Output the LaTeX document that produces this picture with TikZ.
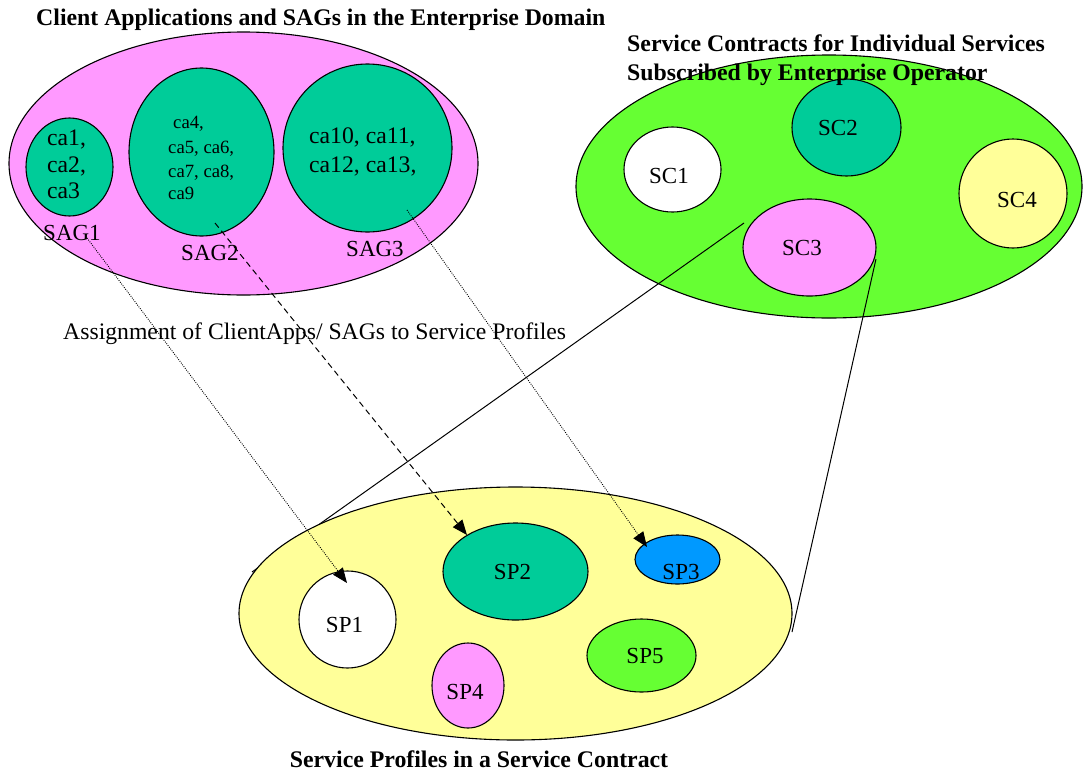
\documentclass[tikz,border=0pt]{standalone}
\usepackage{fontspec}
\setmainfont{Liberation Serif}
\usetikzlibrary{shapes.geometric,arrows.meta}
\definecolor{cpink}{HTML}{FF99FF}
\definecolor{cteal}{HTML}{00CC99}
\definecolor{cgreen}{HTML}{66FF33}
\definecolor{cyellow}{HTML}{FFFF99}
\definecolor{cblue}{HTML}{0099FF}
\begin{document}
\begin{tikzpicture}[x=1pt,y=-1pt,
  blob/.style={ellipse, draw=black, line width=1.1pt, inner sep=0pt},
  lbl/.style={font=\fontsize{23}{23}\selectfont, inner sep=0pt, anchor=base},
  calbl/.style={font=\fontsize{23.7}{23.7}\selectfont, inner sep=0pt, anchor=base west},
  smalllbl/.style={font=\fontsize{18.7}{18.7}\selectfont, inner sep=0pt, anchor=base west},
  ttl/.style={font=\fontsize{23.8}{23.8}\selectfont\bfseries, inner sep=0pt, anchor=base west},
  assigndot/.style={-{Triangle[length=15pt,width=12pt]}, line width=0.9pt, dash pattern=on 0.9pt off 1.3pt},
  assigndash/.style={-{Triangle[length=15pt,width=12pt]}, line width=1pt, dash pattern=on 6pt off 4pt},
  link/.style={line width=1pt}
]
\useasboundingbox (0,0) rectangle (1084,774);

% enterprise domain
\node[blob, fill=cpink, minimum width=469pt, minimum height=263pt] (dom) at (243.5,163.5) {};
\node[blob, fill=cteal, minimum width=87pt, minimum height=98pt] (sag1) at (69.5,167) {};
\node[blob, fill=cteal, minimum width=145pt, minimum height=168pt] (sag2) at (201.5,152) {};
\node[blob, fill=cteal, minimum width=169pt, minimum height=168pt] (sag3) at (367.5,148) {};

\node[calbl] (ca1) at (47,145) {ca1,};
\node[calbl] (ca2) at (47,172) {ca2,};
\node[calbl] (ca3) at (47,198) {ca3};
\node[smalllbl] (ca4) at (173,128) {ca4,};
\node[smalllbl] (ca56) at (168,153) {ca5, ca6,};
\node[smalllbl] (ca78) at (168,177) {ca7, ca8,};
\node[smalllbl] (ca9) at (168,199) {ca9};
\node[calbl] (ca1011) at (309,143) {ca10, ca11,};
\node[calbl] (ca1213) at (309,172) {ca12, ca13,};

\node[lbl] (lsag1) at (72,240) {SAG1};
\node[lbl] (lsag2) at (210,260) {SAG2};
\node[lbl] (lsag3) at (375,256) {SAG3};

% service contracts
\node[blob, fill=cgreen, minimum width=506pt, minimum height=263pt] (scs) at (829,186.5) {};
\node[blob, fill=white, minimum width=97pt, minimum height=85pt] (sc1) at (672.5,169.5) {};
\node[blob, fill=cteal, minimum width=109pt, minimum height=97pt] (sc2) at (846.5,127.5) {};
\node[blob, fill=cpink, minimum width=133pt, minimum height=97pt] (sc3) at (809.5,247.5) {};
\node[blob, fill=cyellow, minimum width=108pt, minimum height=109pt] (sc4) at (1013,193.5) {};
\node[lbl] (lsc1) at (669,183) {SC1};
\node[lbl] (lsc2) at (838,135) {SC2};
\node[lbl] (lsc3) at (802,255) {SC3};
\node[lbl] (lsc4) at (1017,207) {SC4};

% zoom lines from SC3 to the service profile ellipse
\coordinate (zl1) at (744,223);
\coordinate (zl2) at (252,572);
\coordinate (zr1) at (876,259);
\coordinate (zr2) at (792,632);
\draw[link] (zl1) -- (zl2);
\draw[link] (zr1) -- (zr2);

% service profiles
\node[blob, fill=cyellow, minimum width=553pt, minimum height=253pt] (sps) at (515.5,613.5) {};
\node[blob, fill=white, minimum width=97pt, minimum height=97pt] (sp1) at (347.5,619.5) {};
\node[blob, fill=cteal, minimum width=145pt, minimum height=97pt] (sp2) at (515.5,571.5) {};
\node[blob, fill=cblue, minimum width=85pt, minimum height=49pt] (sp3) at (677.5,559.5) {};
\node[blob, fill=cpink, minimum width=72pt, minimum height=85pt] (sp4) at (468,685.5) {};
\node[blob, fill=cgreen, minimum width=109pt, minimum height=73pt] (sp5) at (641.5,655.5) {};
\node[lbl] (lsp1) at (344.5,632) {SP1};
\node[lbl] (lsp2) at (512.5,579) {SP2};
\node[lbl] (lsp3) at (681,579) {SP3};
\node[lbl] (lsp4) at (465,699) {SP4};
\node[lbl] (lsp5) at (645,663) {SP5};

% assignment arrows
\coordinate (a1s) at (87,238);
\coordinate (a1e) at (347,583);
\coordinate (a2s) at (215,223);
\coordinate (a2e) at (467,535);
\coordinate (a3s) at (407,210);
\coordinate (a3e) at (647,547);
\draw[assigndot] (a1s) -- (a1e);
\draw[assigndash] (a2s) -- (a2e);
\draw[assigndot] (a3s) -- (a3e);

% texts
\node[ttl] (t1) at (36,25) {Client Applications and SAGs in the Enterprise Domain};
\node[ttl] (t2a) at (627,51) {Service Contracts for Individual Services};
\node[ttl] (t2b) at (627,80) {Subscribed by Enterprise Operator};
\node[calbl] (mid) at (63,339) {Assignment of ClientApps/ SAGs to Service Profiles};
\node[ttl, anchor=base] (t3) at (479,767) {Service Profiles in a Service Contract};
\end{tikzpicture}
\end{document}
